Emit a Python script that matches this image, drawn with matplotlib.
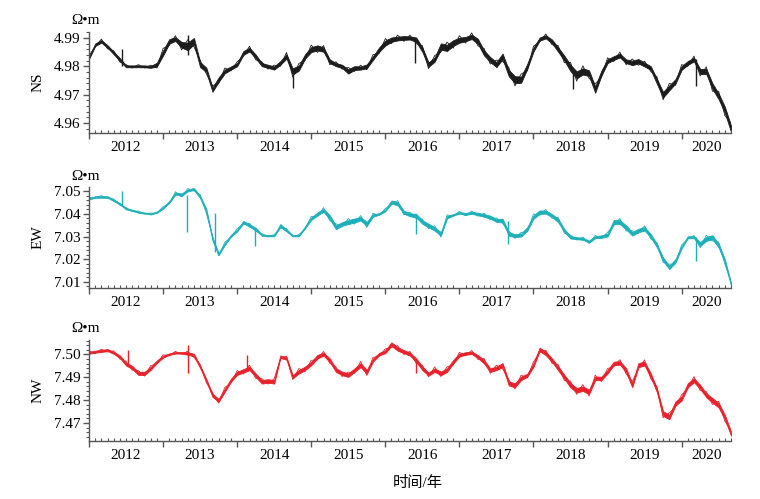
import numpy as np
import matplotlib
matplotlib.use('Agg')
import matplotlib.pyplot as plt
from matplotlib.ticker import MultipleLocator, FormatStrFormatter

plt.rcParams['font.family'] = ['Liberation Serif', 'Noto Sans CJK SC']
plt.rcParams['font.size'] = 11

# monthly readings from Jan 2012, apparent resistivity (Ω·m)
ns = [4.9830, 4.9876, 4.9888, 4.9870, 4.9847, 4.9824, 4.9800, 4.9800, 4.9800, 4.9800,
      4.9798, 4.9806, 4.9847, 4.9888, 4.9896, 4.9876, 4.9870, 4.9889, 4.9806, 4.9788,
      4.9718, 4.9753, 4.9782, 4.9794, 4.9806, 4.9847, 4.9859, 4.9835, 4.9806, 4.9800,
      4.9794, 4.9812, 4.9835, 4.9782, 4.9794, 4.9835, 4.9859, 4.9865, 4.9859, 4.9818,
      4.9806, 4.9800, 4.9782, 4.9794, 4.9794, 4.9800, 4.9829, 4.9859, 4.9882, 4.9894,
      4.9898, 4.9900, 4.9900, 4.9894, 4.9859, 4.9806, 4.9824, 4.9870, 4.9865, 4.9882,
      4.9892, 4.9896, 4.9904, 4.9888, 4.9847, 4.9824, 4.9806, 4.9835, 4.9776, 4.9753,
      4.9753, 4.9800, 4.9859, 4.9896, 4.9904, 4.9888, 4.9859, 4.9829, 4.9794, 4.9770,
      4.9782, 4.9776, 4.9718, 4.9776, 4.9818, 4.9829, 4.9838, 4.9818, 4.9812, 4.9818,
      4.9806, 4.9794, 4.9747, 4.9700, 4.9724, 4.9747, 4.9794, 4.9812, 4.9824, 4.9782,
      4.9782, 4.9730, 4.9694, 4.9647, 4.9580]
ew = [7.0467, 7.0475, 7.0475, 7.0475, 7.0460, 7.0445, 7.0423, 7.0416, 7.0408, 7.0404,
      7.0400, 7.0408, 7.0426, 7.0453, 7.0490, 7.0485, 7.0504, 7.0510, 7.0475, 7.0416,
      7.0290, 7.0223, 7.0267, 7.0304, 7.0327, 7.0364, 7.0349, 7.0334, 7.0307, 7.0304,
      7.0304, 7.0349, 7.0327, 7.0304, 7.0304, 7.0341, 7.0379, 7.0400, 7.0416, 7.0386,
      7.0341, 7.0356, 7.0364, 7.0371, 7.0379, 7.0356, 7.0393, 7.0400, 7.0416, 7.0453,
      7.0445, 7.0408, 7.0396, 7.0393, 7.0364, 7.0349, 7.0334, 7.0312, 7.0386, 7.0396,
      7.0405, 7.0400, 7.0405, 7.0400, 7.0393, 7.0386, 7.0371, 7.0371, 7.0312, 7.0304,
      7.0307, 7.0334, 7.0386, 7.0408, 7.0408, 7.0393, 7.0371, 7.0327, 7.0297, 7.0293,
      7.0290, 7.0278, 7.0297, 7.0300, 7.0307, 7.0364, 7.0364, 7.0341, 7.0312, 7.0327,
      7.0334, 7.0304, 7.0260, 7.0200, 7.0164, 7.0193, 7.0253, 7.0297, 7.0297, 7.0267,
      7.0290, 7.0297, 7.0260, 7.0193, 7.0090]
nw = [7.5007, 7.5012, 7.5015, 7.5019, 7.5007, 7.4990, 7.4958, 7.4943, 7.4917, 7.4917,
      7.4939, 7.4968, 7.4990, 7.5001, 7.5007, 7.5007, 7.5004, 7.4997, 7.4946, 7.4887,
      7.4821, 7.4799, 7.4843, 7.4887, 7.4917, 7.4928, 7.4939, 7.4909, 7.4880, 7.4884,
      7.4880, 7.4990, 7.4982, 7.4902, 7.4924, 7.4939, 7.4960, 7.4990, 7.5001, 7.4975,
      7.4931, 7.4917, 7.4909, 7.4931, 7.4953, 7.4924, 7.4975, 7.5001, 7.5012, 7.5045,
      7.5024, 7.5012, 7.5001, 7.4975, 7.4939, 7.4914, 7.4931, 7.4917, 7.4931, 7.4968,
      7.4997, 7.5004, 7.5007, 7.4990, 7.4968, 7.4931, 7.4939, 7.4953, 7.4873, 7.4865,
      7.4895, 7.4909, 7.4953, 7.5022, 7.5004, 7.4975, 7.4939, 7.4902, 7.4865, 7.4843,
      7.4850, 7.4836, 7.4895, 7.4895, 7.4924, 7.4960, 7.4963, 7.4931, 7.4865, 7.4953,
      7.4960, 7.4909, 7.4843, 7.4741, 7.4726, 7.4785, 7.4807, 7.4865, 7.4887, 7.4858,
      7.4821, 7.4799, 7.4777, 7.4726, 7.4653]

# half width of the daily scatter in each month, unit 1e-4 Ω·m
ns_spread = [8, 8, 8, 8, 8, 9, 6, 6, 6, 6,
             6, 12, 16, 14, 12, 18, 24, 20, 16, 14,
             14, 14, 12, 10, 10, 12, 12, 12, 10, 10,
             10, 12, 14, 20, 16, 14, 16, 16, 14, 12,
             10, 10, 14, 12, 10, 12, 12, 14, 16, 14,
             12, 12, 10, 14, 14, 14, 14, 20, 20, 18,
             16, 14, 14, 16, 16, 16, 16, 18, 20, 22,
             20, 16, 12, 10, 10, 12, 14, 16, 20, 22,
             20, 18, 20, 16, 12, 12, 12, 12, 14, 14,
             12, 12, 16, 18, 16, 14, 12, 12, 12, 16,
             16, 18, 18, 20, 20]
ew_spread = [6, 6, 6, 6, 6, 6, 5, 5, 5, 4,
             4, 5, 6, 8, 8, 10, 8, 8, 10, 12,
             12, 8, 8, 8, 8, 10, 10, 10, 6, 5,
             5, 12, 8, 5, 5, 8, 10, 12, 12, 16,
             16, 14, 16, 16, 14, 16, 10, 6, 8, 12,
             14, 12, 12, 14, 14, 14, 14, 14, 10, 6,
             6, 8, 8, 10, 10, 12, 12, 14, 14, 12,
             12, 14, 14, 14, 12, 12, 14, 12, 10, 8,
             8, 8, 8, 10, 12, 16, 16, 16, 14, 14,
             14, 14, 14, 14, 14, 14, 10, 8, 8, 16,
             16, 16, 16, 14, 12]
nw_spread = [8, 8, 8, 8, 8, 10, 12, 12, 12, 12,
             12, 10, 8, 6, 6, 6, 10, 10, 10, 10,
             12, 12, 12, 12, 12, 14, 14, 14, 14, 14,
             14, 10, 10, 12, 14, 14, 14, 14, 12, 14,
             14, 14, 14, 14, 16, 16, 12, 10, 12, 14,
             14, 12, 12, 14, 14, 12, 14, 14, 14, 14,
             12, 10, 10, 12, 14, 14, 14, 16, 16, 16,
             14, 12, 14, 14, 14, 14, 16, 16, 18, 18,
             18, 18, 14, 14, 14, 14, 14, 16, 16, 16,
             16, 16, 16, 18, 18, 16, 16, 16, 16, 16,
             16, 18, 18, 18, 16]

# isolated jumps (time, low, high)
ns_spike_t = [2012.44, 2013.34, 2014.76, 2016.40, 2018.53, 2020.19]
ns_spike_lo = [4.9800, 4.9840, 4.9724, 4.9812, 4.9720, 4.9730]
ns_spike_hi = [4.9862, 4.9912, 4.9790, 4.9895, 4.9790, 4.9825]
ew_spike_t = [2012.44, 2013.32, 2013.70, 2014.24, 2016.41, 2017.66, 2020.19]
ew_spike_lo = [7.0440, 7.0320, 7.0230, 7.0258, 7.0312, 7.0267, 7.0193]
ew_spike_hi = [7.0500, 7.0485, 7.0404, 7.0334, 7.0393, 7.0371, 7.0297]
nw_spike_t = [2012.53, 2013.33, 2014.13, 2016.41]
nw_spike_lo = [7.4958, 7.4917, 7.4928, 7.4917]
nw_spike_hi = [7.5019, 7.5041, 7.4997, 7.4975]

names = ['NS', 'EW', 'NW']
series = [ns, ew, nw]
spreads = [ns_spread, ew_spread, nw_spread]
spikes = [(ns_spike_t, ns_spike_lo, ns_spike_hi),
          (ew_spike_t, ew_spike_lo, ew_spike_hi),
          (nw_spike_t, nw_spike_lo, nw_spike_hi)]
colors = ['#1c1c1c', '#1eb0ba', '#e8222b']
ylims = [(4.9565, 4.9921), (7.0073, 7.0519), (7.4621, 7.5063)]
years = list(range(2012, 2021))

months = 2012 + np.arange(len(ns)) / 12
xmax = months[-1]

W, H = 760, 499
fig = plt.figure(figsize=(W / 100, H / 100), dpi=100)
# axes boxes in pixels: top, bottom
boxes = [(32, 133), (187, 288), (340, 441)]
left, right = 89, 731

for k in range(3):
    top, bot = boxes[k]
    ax = fig.add_axes([left / W, 1 - bot / H, (right - left) / W, (bot - top) / H])
    y = np.array(series[k])
    s = np.array(spreads[k]) * 1e-4
    c = colors[k]
    # core of the daily scatter, plus the monthly extremes joined up
    ax.fill_between(months, y - 0.55 * s, y + 0.55 * s, color=c, lw=0.6)
    alt = np.where(np.arange(len(y)) % 2 == 0, 1.0, -1.0)
    ax.plot(months, y + alt * s, color=c, lw=0.6)
    st, slo, shi = spikes[k]
    ax.vlines(st, slo, shi, color=c, lw=1.0)

    ax.set_xlim(2012, xmax)
    ax.set_ylim(*ylims[k])
    for sp in ['top', 'right']:
        ax.spines[sp].set_visible(False)
    for sp in ['left', 'bottom']:
        ax.spines[sp].set_color('#555555')
        ax.spines[sp].set_linewidth(1.0)

    ax.yaxis.set_major_locator(MultipleLocator(0.01))
    ax.yaxis.set_minor_locator(MultipleLocator(0.002))
    ax.yaxis.set_major_formatter(FormatStrFormatter('%.2f'))
    ax.tick_params(axis='y', which='major', direction='out', length=4, width=1,
                   color='#555555', labelsize=11, pad=2)
    ax.tick_params(axis='y', which='minor', direction='out', length=2, width=0.8,
                   color='#555555')

    # year boundaries as major ticks, months as minor ticks
    ax.set_xticks(years)
    ax.set_xticklabels([])
    ax.xaxis.set_minor_locator(MultipleLocator(1 / 12))
    ax.tick_params(axis='x', which='major', direction='out', length=4, width=1,
                   color='#555555')
    ax.tick_params(axis='x', which='minor', direction='in', length=2, width=0.8,
                   color='#555555')

    # year labels centred in the visible span of each year
    centres = [(yr + min(yr + 1, xmax)) / 2 for yr in years]
    sec = ax.secondary_xaxis('bottom')
    sec.set_xticks(centres)
    sec.set_xticklabels([str(yr) for yr in years])
    sec.tick_params(length=0, labelsize=11, pad=6)
    sec.spines['bottom'].set_visible(False)

    fig.text(38 / W, 1 - (top + bot) / 2 / H, names[k], rotation=90,
             ha='center', va='center', fontsize=11)
    fig.text(85 / W, 1 - (top - 11) / H, 'Ω•m', ha='center', va='center', fontsize=11)

fig.text(418 / W, 1 - 483 / H, '时间/年', ha='center', va='center', fontsize=11)

fig.savefig('out.png', dpi=100)
